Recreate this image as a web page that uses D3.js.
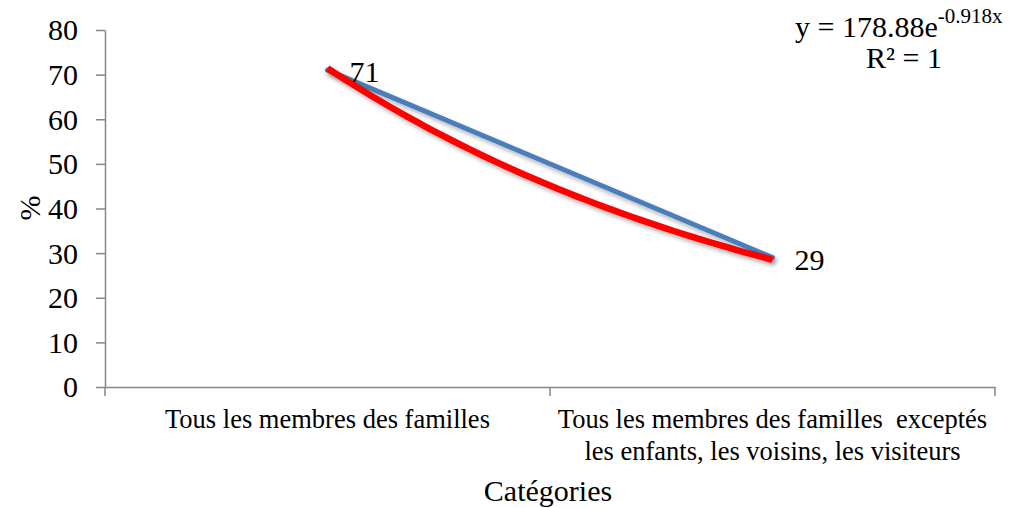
<!DOCTYPE html>
<html><head><meta charset="utf-8">
<script src="https://cdn.jsdelivr.net/npm/d3@7"></script>
<style>body{margin:0;background:#fff}svg{display:block}text{font-family:'Liberation Serif',serif;fill:#000}</style>
</head><body><svg id="c" width="1021" height="508"></svg>
<script>
const categories = ["Tous les membres des familles", "Tous les membres des familles  exceptés|les enfants, les voisins, les visiteurs"];
const values = [71, 29];
const yTicks = [0, 10, 20, 30, 40, 50, 60, 70, 80];
const trendA = 178.88, trendB = -0.918;

const FONT = "'Liberation Serif', serif";
const svg = d3.select("#c");
const x = d3.scaleBand().domain(categories).range([105, 995]).paddingInner(0).paddingOuter(0);
const y = d3.scaleLinear().domain([0, 80]).range([387, 30]);
const xc = d => x(d) + x.bandwidth() / 2;
const xi = d3.scaleLinear().domain([1, 2]).range([xc(categories[0]), xc(categories[1])]);

const defs = svg.append("defs");
const f = defs.append("filter").attr("id", "sh").attr("x", "-10%").attr("y", "-10%").attr("width", "130%").attr("height", "130%");
f.append("feDropShadow").attr("dx", 2).attr("dy", 3).attr("stdDeviation", 2).attr("flood-color", "#000").attr("flood-opacity", 0.3);

function txt(sel, size) {
  return sel.style("font-family", FONT).style("font-size", size + "px").style("fill", "#000");
}

// Y axis
const ya = svg.append("g").attr("transform", "translate(105,0)")
  .call(d3.axisLeft(y).tickValues(yTicks).tickSize(9).tickPadding(18).tickSizeOuter(0));
ya.attr("font-family", null).attr("font-size", null);
ya.select(".domain").attr("stroke", "#868686").attr("stroke-width", 1.5);
ya.selectAll(".tick line").attr("stroke", "#868686").attr("stroke-width", 1.5);
txt(ya.selectAll(".tick text"), 30).attr("dy", "0.33em");

// X axis
const xa = svg.append("g").attr("transform", "translate(0,387)")
  .call(d3.axisBottom(x).tickValues([]).tickSizeOuter(0));
xa.select(".domain").attr("stroke", "#868686").attr("stroke-width", 1.5);
svg.selectAll(".xt").data(categories.concat([null])).enter().append("line")
  .attr("x1", d => d ? x(d) : x(categories[1]) + x.bandwidth())
  .attr("x2", d => d ? x(d) : x(categories[1]) + x.bandwidth())
  .attr("y1", 387).attr("y2", 396).attr("stroke", "#868686").attr("stroke-width", 1.5);

// Category labels
categories.forEach(c => {
  const lines = c.split("|");
  const t = txt(svg.append("text").attr("x", xc(c)).attr("y", 428).attr("text-anchor", "middle"), 26.5);
  lines.forEach((l, i) => t.append("tspan").attr("x", xc(c)).attr("dy", i === 0 ? 0 : 32).style("white-space", "pre").text(l));
});

// Axis titles
txt(svg.append("text").attr("x", 548).attr("y", 501).attr("text-anchor", "middle"), 30).text("Catégories");
txt(svg.append("text").attr("transform", "translate(40,208) rotate(-90)").attr("text-anchor", "middle"), 30).text("%");

// Data line
const line = d3.line().x(d => xc(d.c)).y(d => y(d.v));
svg.append("path").datum(categories.map((c, i) => ({c, v: values[i]})))
  .attr("d", line).attr("fill", "none").attr("stroke", "#4A7EBB").attr("stroke-width", 5).attr("stroke-linecap", "round").attr("filter", "url(#sh)");

// Trend line (exponential)
const tp = d3.range(1, 2.0001, 0.02).map(t => [t, trendA * Math.exp(trendB * t)]);
svg.append("path").datum(tp)
  .attr("d", d3.line().x(d => xi(d[0])).y(d => y(d[1])).curve(d3.curveMonotoneX))
  .attr("fill", "none").attr("stroke", "#FF0000").attr("stroke-width", 6.5).attr("filter", "url(#sh)");

// Data labels
txt(svg.selectAll(".dl").data(values).enter().append("text")
  .attr("x", (d, i) => xc(categories[i]) + 22).attr("y", d => y(d) + 12), 30).text(d => d);

// Equation
const eq = txt(svg.append("text").attr("x", 795).attr("y", 37), 30);
eq.append("tspan").text("y = 178.88e");
eq.append("tspan").style("font-size", "21px").attr("dy", -14).text("-0.918x");
txt(svg.append("text").attr("x", 904).attr("y", 68).attr("text-anchor", "middle"), 30).text("R² = 1");
</script></body></html>
